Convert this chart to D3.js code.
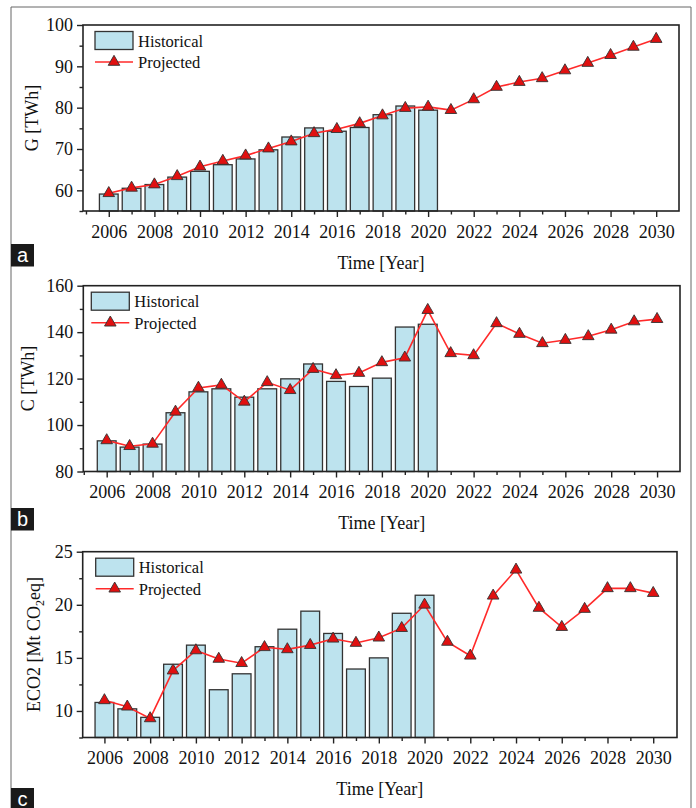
<!DOCTYPE html>
<html>
<head>
<meta charset="utf-8">
<script src="https://cdn.jsdelivr.net/npm/d3@7"></script>
<style>
    body { margin: 0; background: #fff; }
    svg { display: block; font-family: "Liberation Serif", "Times New Roman", serif; }
</style>
</head>
<body>
<div id="figure"></div>
<script>
// ---- data ----
var histYears = [2006, 2007, 2008, 2009, 2010, 2011, 2012, 2013, 2014, 2015, 2016, 2017, 2018, 2019, 2020]
var projYears = [2006, 2007, 2008, 2009, 2010, 2011, 2012, 2013, 2014, 2015, 2016, 2017, 2018,
    2019, 2020, 2021, 2022, 2023, 2024, 2025, 2026, 2027, 2028, 2029, 2030]

var majorYears = [2006, 2008, 2010, 2012, 2014, 2016, 2018, 2020, 2022, 2024, 2026, 2028, 2030]
var minorYears = [2005, 2007, 2009, 2011, 2013, 2015, 2017, 2019, 2021, 2023, 2025, 2027, 2029]

// a: G [TWh]
var gHistorical = [59.1, 60.5, 61.4, 63.2, 64.6, 66.2, 67.6, 69.8, 72.9, 75.1, 74.3, 75.2, 78.3, 80.4, 79.4]
var gProjected = [59.3, 60.6, 61.4, 63.4, 65.7, 67.1, 68.4, 70.1, 71.8, 73.8, 74.8, 76.2, 78.1,
    79.9, 80.2, 79.4, 82.0, 85.0, 86.2, 87.1, 89.0, 90.8, 92.7, 94.7, 96.6]
var gTicks = [60, 70, 80, 90, 100]
var gMinor = [55, 65, 75, 85, 95]

// b: C [TWh]
var cHistorical = [93.2, 90.5, 91.8, 105.3, 114.3, 115.6, 112.0, 115.6, 119.9, 126.3, 118.8, 116.6, 120.2, 142.2, 143.4]
var cProjected = [93.4, 90.9, 91.9, 105.7, 116.0, 117.3, 110.0, 118.4, 115.0, 124.1, 121.4, 122.4, 127.0,
    129.0, 149.5, 130.9, 130.0, 143.8, 139.2, 135.2, 136.6, 138.2, 141.0, 144.6, 145.6]
var cTicks = [80, 100, 120, 140, 160]
var cMinor = [90, 110, 130, 150]

// c: ECO2 [Mt CO2eq]
var eHistorical = [10.8, 10.2, 9.4, 14.4, 16.2, 12.0, 13.5, 16.05, 17.7, 19.4, 17.3, 13.95, 15.0, 19.2, 20.9]
var eProjected = [11.0, 10.4, 9.3, 13.8, 15.7, 14.9, 14.5, 16.0, 15.8, 16.2, 16.8, 16.4, 16.9,
    17.8, 20.0, 16.5, 15.2, 20.85, 23.3, 19.7, 17.9, 19.6, 21.55, 21.55, 21.1]
var eTicks = [10, 15, 20, 25]
var eMinor = [7.5, 12.5, 17.5, 22.5]

var legendLabels = ['Historical', 'Projected']

// ---- layout of the three panels ----
var panels = [
    {
        tag: 'a', hist: gHistorical, proj: gProjected, ticks: gTicks, minor: gMinor,
        yDomain: [55, 100], xDomain: [2004.87, 2031.0],
        left: 83, right: 679, top: 25, bottom: 211,
        yLabelX: 38, legendDx: 12, tagY: 244
    },
    {
        tag: 'b', hist: cHistorical, proj: cProjected, ticks: cTicks, minor: cMinor,
        yDomain: [80, 160], xDomain: [2004.98, 2031.0],
        left: 83.3, right: 680, top: 285.7, bottom: 471.5,
        yLabelX: 34, legendDx: 8, tagY: 508
    },
    {
        tag: 'c', hist: eHistorical, proj: eProjected, ticks: eTicks, minor: eMinor,
        yDomain: [7.5, 25], xDomain: [2005.05, 2031.04],
        left: 82.7, right: 677, top: 551.7, bottom: 737.5,
        yLabelX: 40, legendDx: 13, tagY: 788
    }
]

var width = 696,
    height = 808

var barFill = '#bde3ee',
    barStroke = '#333',
    lineColor = '#ff2a2a',
    markFill = '#e01010'

var svg = d3.select('#figure').append('svg')
    .attr('width', width)
    .attr('height', height)

// outer figure border
svg.append('path')
    .attr('d', `M11,${height} V7 H691 V${height}`)
    .style('fill', 'none')
    .style('stroke', '#666')
    .style('stroke-width', 1)

var triangle = d3.symbol(d3.symbolTriangle, 58)

function styleAxis(g) {
    g.select('.domain').remove()
    g.selectAll('line').style('stroke', '#222').style('stroke-width', 1.4)
    g.selectAll('text')
        .style('font-family', '"Liberation Serif", "Times New Roman", serif')
        .style('font-size', '18px')
        .style('fill', '#111')
}

function drawPanel(p, k) {
    var x = d3.scaleLinear().domain(p.xDomain).range([p.left, p.right])
    var y = d3.scaleLinear().domain(p.yDomain).range([p.bottom, p.top])
    var g = svg.append('g').attr('class', 'panel-' + p.tag)

    var bars = histYears.map((yr, i) => ({ year: yr, v: p.hist[i] }))
    var pts = projYears.map((yr, i) => ({ year: yr, v: p.proj[i] }))

    // historical bars
    g.selectAll('rect.bar')
        .data(bars)
        .enter().append('rect')
        .attr('class', 'bar')
        .attr('x', d => x(d.year - 0.41))
        .attr('width', d => x(d.year + 0.41) - x(d.year - 0.41))
        .attr('y', d => y(d.v))
        .attr('height', d => y(p.yDomain[0]) - y(d.v))
        .style('fill', barFill)
        .style('stroke', barStroke)
        .style('stroke-width', 1.3)

    // projected line + triangles
    var line = d3.line().x(d => x(d.year)).y(d => y(d.v))
    g.append('path')
        .datum(pts)
        .attr('d', line)
        .style('fill', 'none')
        .style('stroke', lineColor)
        .style('stroke-width', 1.6)

    g.selectAll('path.mark')
        .data(pts)
        .enter().append('path')
        .attr('class', 'mark')
        .attr('d', triangle)
        .attr('transform', d => `translate(${x(d.year)}, ${y(d.v)})`)
        .style('fill', markFill)
        .style('stroke', '#333')
        .style('stroke-width', 0.9)

    // x axis: minor then major ticks
    g.append('g')
        .attr('transform', `translate(0, ${p.bottom})`)
        .call(d3.axisBottom(x).tickValues(minorYears.filter(v => v >= p.xDomain[0])).tickSize(3.5).tickFormat(''))
        .call(styleAxis)
    g.append('g')
        .attr('transform', `translate(0, ${p.bottom})`)
        .call(d3.axisBottom(x).tickValues(majorYears).tickFormat(d3.format('d')).tickSize(6).tickPadding(8))
        .call(styleAxis)

    // y axis
    g.append('g')
        .attr('transform', `translate(${p.left}, 0)`)
        .call(d3.axisLeft(y).tickValues(p.minor).tickSize(3.5).tickFormat(''))
        .call(styleAxis)
    g.append('g')
        .attr('transform', `translate(${p.left}, 0)`)
        .call(d3.axisLeft(y).tickValues(p.ticks).tickSize(6).tickPadding(4))
        .call(styleAxis)

    // frame around the plot
    g.append('rect')
        .attr('x', p.left)
        .attr('y', p.top)
        .attr('width', p.right - p.left)
        .attr('height', p.bottom - p.top)
        .style('fill', 'none')
        .style('stroke', '#222')
        .style('stroke-width', 1.6)

    // axis titles
    g.append('text')
        .attr('x', (p.left + p.right) / 2)
        .attr('y', p.bottom + 57.5)
        .attr('text-anchor', 'middle')
        .style('font-size', '18px')
        .style('fill', '#111')
        .text('Time [Year]')

    var yt = g.append('text')
        .attr('transform', `translate(${p.yLabelX}, ${(p.top + p.bottom) / 2}) rotate(-90)`)
        .attr('text-anchor', 'middle')
        .style('font-size', '18px')
        .style('fill', '#111')
    if (p.tag === 'a') yt.text('G [TWh]')
    else if (p.tag === 'b') yt.text('C [TWh]')
    else {
        yt.append('tspan').text('ECO2 [Mt CO')
        yt.append('tspan').attr('dy', 4).style('font-size', '12px').text('2')
        yt.append('tspan').attr('dy', -4).text('eq]')
    }

    // legend
    var lx = p.left + p.legendDx
    var leg = g.append('g').attr('transform', `translate(${lx}, ${p.top})`)
    leg.append('rect')
        .attr('x', 0).attr('y', 6.5)
        .attr('width', 38).attr('height', 18)
        .style('fill', barFill)
        .style('stroke', barStroke)
        .style('stroke-width', 1.3)
    leg.append('line')
        .attr('x1', 0).attr('x2', 38)
        .attr('y1', 37).attr('y2', 37)
        .style('stroke', lineColor)
        .style('stroke-width', 1.6)
    leg.append('path')
        .attr('d', triangle)
        .attr('transform', 'translate(19, 37)')
        .style('fill', markFill)
        .style('stroke', '#333')
        .style('stroke-width', 0.9)
    leg.selectAll('text.leg')
        .data(legendLabels)
        .enter().append('text')
        .attr('class', 'leg')
        .attr('x', 43)
        .attr('y', (d, i) => 21.5 + i * 21.5)
        .style('font-size', '16.5px')
        .style('fill', '#111')
        .text(d => d)

    // panel tag (white letter on black square)
    svg.append('rect')
        .attr('x', 11).attr('y', p.tagY)
        .attr('width', 23).attr('height', 22.5)
        .style('fill', '#1a1a1a')
    svg.append('text')
        .attr('x', 22.5).attr('y', p.tagY + 17.5)
        .attr('text-anchor', 'middle')
        .style('font-family', '"Liberation Sans", Arial, sans-serif')
        .style('font-size', '20px')
        .style('fill', '#fff')
        .text(p.tag)
}

panels.forEach(drawPanel)
</script>
</body>
</html>
